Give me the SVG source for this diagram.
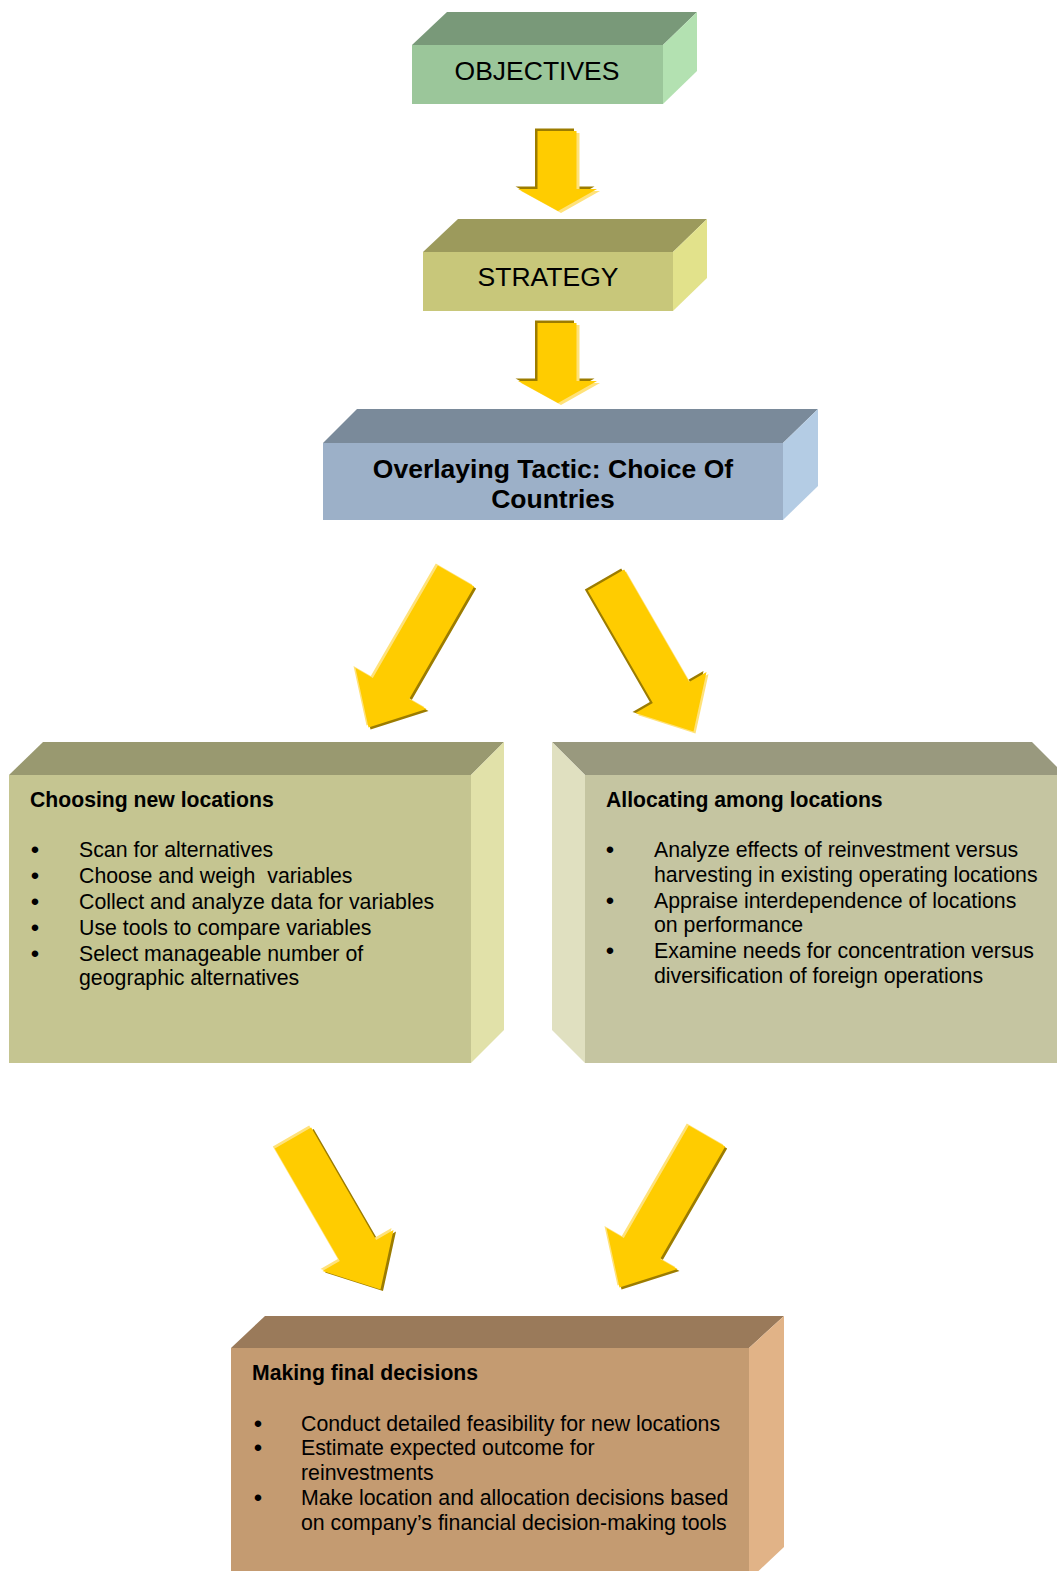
<svg xmlns="http://www.w3.org/2000/svg" xmlns:xlink="http://www.w3.org/1999/xlink" width="1057" height="1571" viewBox="0 0 1057 1571">
  <style>
    .t-caps { font-family: "Liberation Sans", Arial, sans-serif; font-size: 26.5px; fill: #000; text-anchor: middle; }
    .t-head { font-family: "Liberation Sans", Arial, sans-serif; font-size: 26.5px; font-weight: bold; fill: #000; text-anchor: middle; }
    .t-title { font-family: "Liberation Sans", Arial, sans-serif; font-size: 21.2px; font-weight: bold; fill: #000; }
    .t-body { font-family: "Liberation Sans", Arial, sans-serif; font-size: 21.3px; fill: #000; }
    .t-bul { font-family: "Liberation Sans", Arial, sans-serif; font-size: 24px; fill: #000; text-anchor: middle; }
    .a-main { fill: #ffcc00; }
    .a-dark { fill: #9c7c00; }
    .a-lite { fill: #ffe27a; }
  </style>
  <defs>
    <!-- straight down arrow, origin at top centre of the shaft -->
    <path id="arrowDown" d="M -19.5,0 H 19.5 V 58 H 40 L 1,80 L -39,58 H -19.5 Z"/>
    <!-- long arrow for the diagonal links, pointing along +y from the tail centre -->
    <path id="arrowLong" d="M -21,0 H 21 V 130 H 41 L 0,175 L -41,130 H -21 Z"/>
  </defs>

  <!-- connectors -->
  <g id="connectors">
    <g id="link-objectives-strategy">
      <use href="#arrowDown" class="a-dark" transform="translate(554.5,128.5)"/>
      <use href="#arrowDown" class="a-lite" transform="translate(560,133)"/>
      <use href="#arrowDown" class="a-main" transform="translate(557,131)"/>
    </g>
    <g id="link-strategy-tactic">
      <use href="#arrowDown" class="a-dark" transform="translate(554.5,320.5)"/>
      <use href="#arrowDown" class="a-lite" transform="translate(560,325)"/>
      <use href="#arrowDown" class="a-main" transform="translate(557,323)"/>
    </g>
    <g id="link-tactic-choosing">
      <use href="#arrowLong" class="a-dark" transform="translate(458,578) rotate(30)"/>
      <use href="#arrowLong" class="a-lite" transform="translate(454,574) rotate(30)"/>
      <use href="#arrowLong" class="a-main" transform="translate(456,576) rotate(30)"/>
    </g>
    <g id="link-tactic-allocating">
      <use href="#arrowLong" class="a-dark" transform="translate(603,579) rotate(-30)"/>
      <use href="#arrowLong" class="a-lite" transform="translate(608,582) rotate(-30)"/>
      <use href="#arrowLong" class="a-main" transform="translate(606,580) rotate(-30)"/>
    </g>
    <g id="link-choosing-final">
      <use href="#arrowLong" class="a-dark" transform="translate(295.5,1139.5) rotate(-30)"/>
      <use href="#arrowLong" class="a-lite" transform="translate(291,1136) rotate(-30)"/>
      <use href="#arrowLong" class="a-main" transform="translate(293,1138) rotate(-30)"/>
    </g>
    <g id="link-allocating-final">
      <use href="#arrowLong" class="a-dark" transform="translate(709,1138) rotate(30)"/>
      <use href="#arrowLong" class="a-lite" transform="translate(705,1134) rotate(30)"/>
      <use href="#arrowLong" class="a-main" transform="translate(707,1136) rotate(30)"/>
    </g>
  </g>

  <!-- OBJECTIVES -->
  <g id="node-objectives">
    <polygon points="447,12 697,12 663,45 412,45" fill="#799979"/>
    <polygon points="663,45 697,12 697,71 663,104" fill="#b3e1b1"/>
    <rect x="412" y="45" width="251" height="59" fill="#9bc69a"/>
    <text class="t-caps" x="537" y="80">OBJECTIVES</text>
  </g>

  <!-- STRATEGY -->
  <g id="node-strategy">
    <polygon points="458,219 707,219 673,252 423,252" fill="#9c9a5c"/>
    <polygon points="673,252 707,219 707,278 673,311" fill="#e2e28b"/>
    <rect x="423" y="252" width="250" height="59" fill="#c8c77a"/>
    <text class="t-caps" x="548" y="286">STRATEGY</text>
  </g>

  <!-- Overlaying tactic -->
  <g id="node-tactic">
    <polygon points="357,409 818,409 783,443 323,443" fill="#7a8a9a"/>
    <polygon points="783,443 818,409 818,486 783,520" fill="#b4cce4"/>
    <rect x="323" y="443" width="460" height="77" fill="#9cb0c8"/>
    <text class="t-head" x="553" y="478">Overlaying Tactic: Choice Of</text>
    <text class="t-head" x="553" y="508">Countries</text>
  </g>

  <!-- Choosing new locations -->
  <g id="node-choosing">
    <polygon points="43,742 504,742 471,775 9,775" fill="#999970"/>
    <polygon points="471,775 504,742 504,1030 471,1063" fill="#e1e1a9"/>
    <rect x="9" y="775" width="462" height="288" fill="#c5c591"/>
    <text class="t-title" x="30" y="807">Choosing new locations</text>
    <text class="t-bul" x="35" y="858">•</text>
    <text class="t-bul" x="35" y="884">•</text>
    <text class="t-bul" x="35" y="910">•</text>
    <text class="t-bul" x="35" y="936">•</text>
    <text class="t-bul" x="35" y="962">•</text>
    <text class="t-body" x="79" y="857">Scan for alternatives</text>
    <text class="t-body" x="79" y="883" xml:space="preserve">Choose and weigh  variables</text>
    <text class="t-body" x="79" y="909">Collect and analyze data for variables</text>
    <text class="t-body" x="79" y="935">Use tools to compare variables</text>
    <text class="t-body" x="79" y="961">Select manageable number of</text>
    <text class="t-body" x="79" y="985">geographic alternatives</text>
  </g>

  <!-- Allocating among locations -->
  <g id="node-allocating">
    <polygon points="552,742 1032,742 1065,775 585,775" fill="#99997e"/>
    <polygon points="552,742 585,775 585,1063 552,1030" fill="#e0e0c0"/>
    <rect x="585" y="775" width="480" height="288" fill="#c5c5a1"/>
    <text class="t-title" x="606" y="807">Allocating among locations</text>
    <text class="t-bul" x="610" y="858">•</text>
    <text class="t-bul" x="610" y="909">•</text>
    <text class="t-bul" x="610" y="959">•</text>
    <text class="t-body" x="654" y="857">Analyze effects of reinvestment versus</text>
    <text class="t-body" x="654" y="882">harvesting in existing operating locations</text>
    <text class="t-body" x="654" y="908">Appraise interdependence of locations</text>
    <text class="t-body" x="654" y="932">on performance</text>
    <text class="t-body" x="654" y="958">Examine needs for concentration versus</text>
    <text class="t-body" x="654" y="983">diversification of foreign operations</text>
  </g>

  <!-- Making final decisions -->
  <g id="node-final">
    <polygon points="265,1316 784,1316 749,1348 231,1348" fill="#9a7a5a"/>
    <polygon points="749,1348 784,1316 784,1547 749,1580" fill="#e1b387"/>
    <rect x="231" y="1348" width="518" height="230" fill="#c49b71"/>
    <text class="t-title" x="252" y="1380">Making final decisions</text>
    <text class="t-bul" x="258" y="1432">•</text>
    <text class="t-bul" x="258" y="1456">•</text>
    <text class="t-bul" x="258" y="1506">•</text>
    <text class="t-body" x="301" y="1431">Conduct detailed feasibility for new locations</text>
    <text class="t-body" x="301" y="1455">Estimate expected outcome for</text>
    <text class="t-body" x="301" y="1480">reinvestments</text>
    <text class="t-body" x="301" y="1505">Make location and allocation decisions based</text>
    <text class="t-body" x="301" y="1530">on company’s financial decision-making tools</text>
  </g>
</svg>
